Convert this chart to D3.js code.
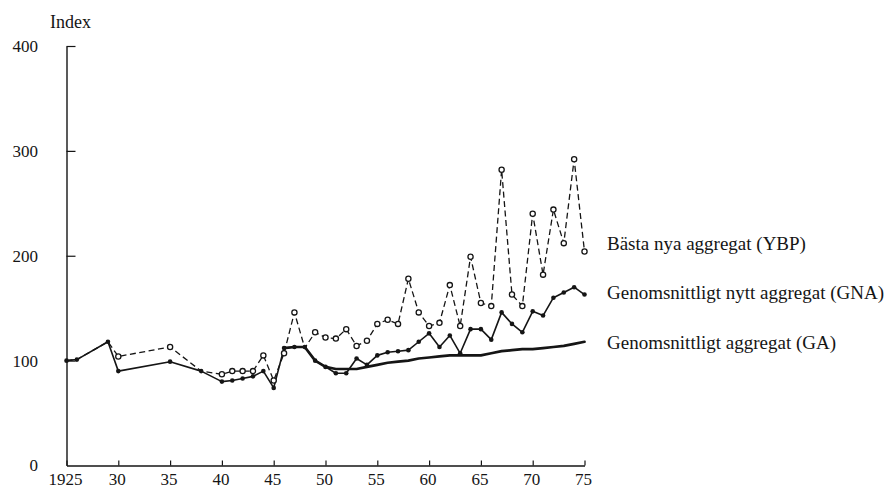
<!DOCTYPE html>
<html>
<head>
<meta charset="utf-8">
<script src="https://cdn.jsdelivr.net/npm/d3@7"></script>
<style>
  html, body { margin: 0; padding: 0; background: #fff; }
  svg { display: block; font-family: "Liberation Serif", "Times New Roman", serif; }
</style>
</head>
<body>
<svg id="chart" width="888" height="489"></svg>
<script>
// Years shared by the YBP and GNA series
const years = [1925, 1926, 1929, 1930, 1935, 1938, 1940, 1941, 1942, 1943, 1944, 1945,
  1946, 1947, 1948, 1949, 1950, 1951, 1952, 1953, 1954, 1955, 1956, 1957, 1958, 1959,
  1960, 1961, 1962, 1963, 1964, 1965, 1966, 1967, 1968, 1969, 1970, 1971, 1972, 1973,
  1974, 1975];

// Bästa nya aggregat (YBP)
const ybp = [100, 101, 118, 104, 113, 90, 87, 90, 90, 90, 105, 81,
  107, 146, 112, 127, 122, 121, 130, 114, 119, 135, 139, 135, 178, 146,
  133, 136, 172, 133, 199, 155, 152, 282, 163, 152, 240, 182, 244, 212,
  292, 204];

// Genomsnittligt nytt aggregat (GNA)
const gna = [100, 101, 118, 90, 99, 90, 80, 81, 83, 85, 90, 74,
  112, 113, 113, 100, 94, 88, 88, 102, 96, 105, 108, 109, 110, 118,
  126, 113, 124, 107, 130, 130, 120, 146, 135, 127, 147, 143, 160, 165,
  170, 163];

// Genomsnittligt aggregat (GA), drawn where it separates from GNA
const gaYears = [1946, 1947, 1948, 1949, 1950, 1951, 1952, 1953, 1954, 1955, 1956, 1957,
  1958, 1959, 1960, 1961, 1962, 1963, 1964, 1965, 1966, 1967, 1968, 1969, 1970, 1971,
  1972, 1973, 1974, 1975];
const ga = [112, 113, 113, 100, 94, 92, 92, 92, 94, 96, 98, 99,
  100, 102, 103, 104, 105, 105, 105, 105, 107, 109, 110, 111, 111, 112,
  113, 114, 116, 118];

const xTicks = [1925, 1930, 1935, 1940, 1945, 1950, 1955, 1960, 1965, 1970, 1975];
const xTickLabels = ["1925", "30", "35", "40", "45", "50", "55", "60", "65", "70", "75"];
const yTicks = [0, 100, 200, 300, 400];
const seriesNames = ["Bästa nya aggregat (YBP)", "Genomsnittligt nytt aggregat (GNA)", "Genomsnittligt aggregat (GA)"];
const yTitle = "Index";

const ink = "#151515";
const svg = d3.select("#chart");

const x = d3.scaleLinear().domain([1925, 1975]).range([66.5, 584.5]);
const y = d3.scaleLinear().domain([0, 400]).range([465.5, 46]);

// Axes
const xAxis = d3.axisBottom(x)
  .tickValues(xTicks)
  .tickFormat((d, i) => xTickLabels[i])
  .tickSizeInner(-5)
  .tickSizeOuter(0)
  .tickPadding(7);

const yAxis = d3.axisLeft(y)
  .tickValues(yTicks)
  .tickFormat(d3.format("d"))
  .tickSizeInner(-9)
  .tickSizeOuter(0)
  .tickPadding(28.5);

const gx = svg.append("g").attr("transform", `translate(0,${y(0)})`).call(xAxis);
const gy = svg.append("g").attr("transform", `translate(${x(1925)},0)`).call(yAxis);

[gx, gy].forEach(g => {
  g.select(".domain").attr("stroke", ink).attr("stroke-width", 1.4);
  g.selectAll(".tick line").attr("stroke", ink).attr("stroke-width", 1.2);
  g.selectAll(".tick text")
    .attr("fill", ink)
    .style("font-family", '"Liberation Serif", "Times New Roman", serif')
    .style("font-size", "17px");
});
gx.selectAll(".tick text").attr("dx", "-1.5");
gy.selectAll(".tick").filter(d => d === 0).select("line").remove();

svg.append("text")
  .attr("x", 50).attr("y", 28)
  .attr("fill", ink)
  .style("font-size", "18px")
  .text(yTitle);

// Series
const ybpData = years.map((yr, i) => ({ yr, v: ybp[i], g: gna[i] }));
const gnaData = years.map((yr, i) => ({ yr, v: gna[i] }));
const gaData = gaYears.map((yr, i) => ({ yr, v: ga[i] }));

const line = d3.line().x(d => x(d.yr)).y(d => y(d.v));

svg.append("path").datum(gaData)
  .attr("d", line)
  .attr("fill", "none").attr("stroke", ink)
  .attr("stroke-width", 2.7).attr("stroke-linejoin", "round").attr("stroke-linecap", "round");

svg.append("path").datum(gnaData)
  .attr("d", line)
  .attr("fill", "none").attr("stroke", ink)
  .attr("stroke-width", 1.6).attr("stroke-linejoin", "round");

svg.append("path").datum(ybpData)
  .attr("d", line)
  .attr("fill", "none").attr("stroke", ink)
  .attr("stroke-width", 1.3).attr("stroke-dasharray", "6,3.5");

svg.append("g").selectAll("circle")
  .data(ybpData.filter(d => Math.abs(d.v - d.g) > 1))
  .join("circle")
  .attr("cx", d => x(d.yr)).attr("cy", d => y(d.v))
  .attr("r", 2.6)
  .attr("fill", "#fff").attr("stroke", ink).attr("stroke-width", 1.3);

svg.append("g").selectAll("circle")
  .data(gnaData)
  .join("circle")
  .attr("cx", d => x(d.yr)).attr("cy", d => y(d.v))
  .attr("r", 2.3)
  .attr("fill", ink);

// Series labels at the right end of each line
const labelY = [249.5, 298.5, 348.5];
svg.append("g").selectAll("text")
  .data(seriesNames)
  .join("text")
  .attr("x", 607)
  .attr("y", (d, i) => labelY[i])
  .attr("fill", ink)
  .style("font-size", "19px")
  .text(d => d);
</script>
</body>
</html>
